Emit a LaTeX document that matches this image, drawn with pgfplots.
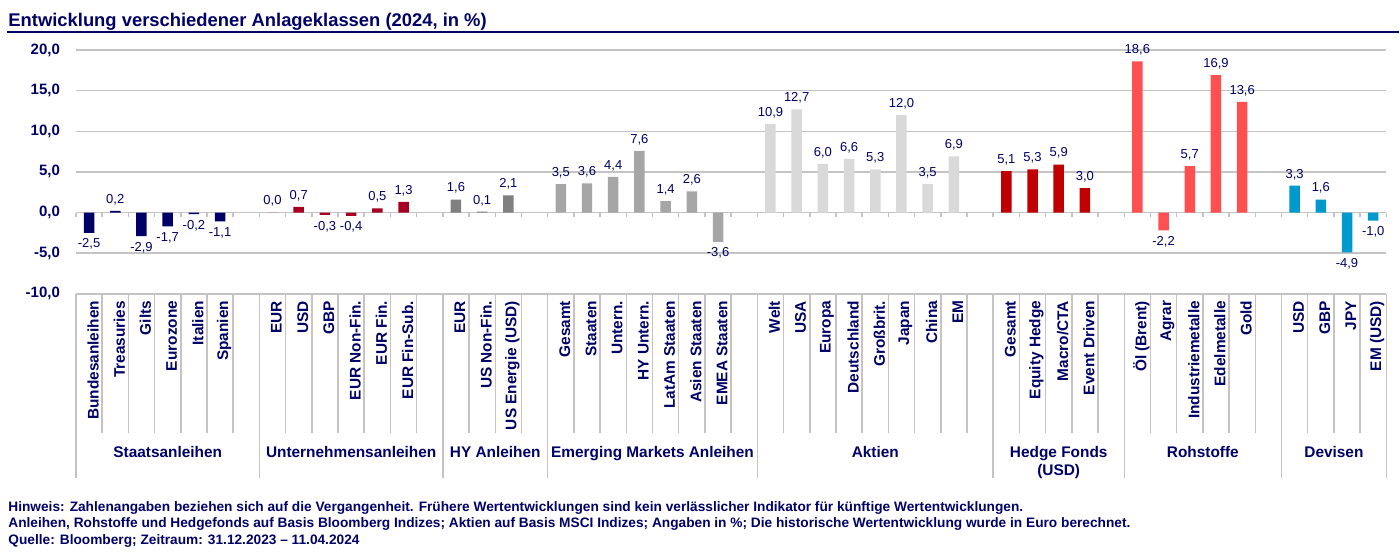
\documentclass[border=0pt]{standalone}
\usepackage{fontspec}
\setmainfont{Liberation Sans}
\usepackage{pgfplots}
\pgfplotsset{compat=1.18}

\definecolor{navy}{RGB}{0,0,102}
\definecolor{gridc}{RGB}{196,196,196}
\definecolor{cStaat}{RGB}{0,0,102}
\definecolor{cUnt}{RGB}{165,0,33}
\definecolor{cHY}{RGB}{128,128,128}
\definecolor{cEM}{RGB}{166,166,166}
\definecolor{cAkt}{RGB}{217,217,217}
\definecolor{cHF}{RGB}{192,0,0}
\definecolor{cRoh}{RGB}{255,80,80}
\definecolor{cDev}{RGB}{0,153,204}

\newcommand{\fTick}{\fontsize{7.5}{9}\selectfont\bfseries}
\newcommand{\fCat}{\fontsize{7.7}{9}\selectfont\bfseries}
\newcommand{\fVal}{\fontsize{6.5}{7.5}\selectfont}
\newcommand{\fTitle}{\fontsize{9.2}{11}\selectfont\bfseries}
\newcommand{\fFoot}{\fontsize{6.85}{8.2}\selectfont\bfseries}

\begin{document}
\begin{tikzpicture}
% canvas 1400 x 555 px, 1px = 0.5pt
\path (0,0) rectangle (700pt,277.5pt);

\begin{axis}[
  at={(38pt,130.5pt)}, anchor=south west,
  scale only axis, width=655.5pt, height=122pt,
  xmin=-0.5, xmax=49.5, ymin=-10, ymax=20,
  enlargelimits=false, clip=false,
  ybar, bar width=0.4, bar shift=0pt,
  axis line style={draw=none},
  major tick length=0pt,
  ytick={-10,-5,...,20},
  ymajorgrids, grid style={line width=0.75pt, color=gridc},
  xtick={0,...,49},
  xticklabels={Bundesanleihen,Treasuries,Gilts,Eurozone,Italien,Spanien,{},
    EUR,USD,GBP,EUR Non-Fin.,EUR Fin.,EUR Fin-Sub.,{},
    EUR,US Non-Fin.,US Energie (USD),{},
    Gesamt,Staaten,Untern.,HY Untern.,LatAm Staaten,Asien Staaten,EMEA Staaten,{},
    Welt,USA,Europa,Deutschland,Großbrit.,Japan,China,EM,{},
    Gesamt,Equity Hedge,Macro/CTA,Event Driven,{},
    Öl (Brent),Agrar,Industriemetalle,Edelmetalle,Gold,{},
    USD,GBP,JPY,EM (USD)},
  xticklabel style={rotate=90, anchor=east, font=\fCat, text=navy, yshift=-2pt},
  yticklabel style={font=\fTick, text=navy, xshift=-4.5pt},
  nodes near coords,
  every node near coord/.append style={font=\fVal, text=navy, inner sep=2.8pt},
  /pgf/number format/fixed,
  /pgf/number format/fixed zerofill,
  /pgf/number format/precision=1,
  /pgf/number format/use comma,
  /pgf/number format/assume math mode=true,
]
% Staatsanleihen
\addplot[fill=cStaat, draw=none] coordinates {
  (0,-2.5) (1,0.2) (2,-2.9) (3,-1.7) (4,-0.2) (5,-1.1)};
% Unternehmensanleihen
\addplot[fill=cUnt, draw=none] coordinates {
  (7,0.0) (8,0.7) (9,-0.3) (10,-0.4) (11,0.5) (12,1.3)};
% HY Anleihen
\addplot[fill=cHY, draw=none] coordinates {
  (14,1.6) (15,0.1) (16,2.1)};
% Emerging Markets Anleihen
\addplot[fill=cEM, draw=none] coordinates {
  (18,3.5) (19,3.6) (20,4.4) (21,7.6) (22,1.4) (23,2.6) (24,-3.6)};
% Aktien
\addplot[fill=cAkt, draw=none] coordinates {
  (26,10.9) (27,12.7) (28,6.0) (29,6.6) (30,5.3) (31,12.0) (32,3.5) (33,6.9)};
% Hedge Fonds
\addplot[fill=cHF, draw=none] coordinates {
  (35,5.1) (36,5.3) (37,5.9) (38,3.0)};
% Rohstoffe
\addplot[fill=cRoh, draw=none] coordinates {
  (40,18.6) (41,-2.2) (42,5.7) (43,16.9) (44,13.6)};
% Devisen
\addplot[fill=cDev, draw=none] coordinates {
  (46,3.3) (47,1.6) (48,-4.9) (49,-1.0)};
\end{axis}

\begin{scope}[x=0.5pt, y=-0.5pt, shift={(0,277.5pt)}]
  % title
  \node[anchor=base west, inner sep=0, font=\fTitle, text=navy] at (8,26.5)
    {Entwicklung verschiedener Anlageklassen (2024, in \%)};
  \draw[navy, line width=0.7pt] (7,32) -- (1400,32);
  % ticks on zero line
  \foreach \k in {0,...,50}
    \draw[gridc, line width=0.75pt] ({76+\k*26.22},212.7) -- ++(0,4.5);
  % category table
  \foreach \k in {0,...,50}
    \draw[gridc, line width=0.75pt] ({76+\k*26.22},294) -- ({76+\k*26.22},433);
  \foreach \k in {0,7,14,18,26,35,40,46,50}
    \draw[gridc, line width=0.75pt] ({76+\k*26.22},294) -- ({76+\k*26.22},478);
  \begin{scope}[every node/.style={font=\fCat, text=navy, inner sep=0, anchor=base}]
    \node at ({76+3.5*26.22},457.5) {Staatsanleihen};
    \node at ({76+10.5*26.22},457.5) {Unternehmensanleihen};
    \node at ({76+16*26.22},457.5) {HY Anleihen};
    \node at ({76+22*26.22},457.5) {Emerging Markets Anleihen};
    \node at ({76+30.5*26.22},457.5) {Aktien};
    \node at ({76+37.5*26.22},457.5) {Hedge Fonds};
    \node at ({76+37.5*26.22},475.5) {(USD)};
    \node at ({76+43*26.22},457.5) {Rohstoffe};
    \node at ({76+48*26.22},457.5) {Devisen};
  \end{scope}
  % footer
  \begin{scope}[every node/.style={font=\fFoot, text=navy, inner sep=0, anchor=base west}]
    \node at (8,512) {Hinweis: Zahlenangaben beziehen sich auf die Vergangenheit. Frühere Wertentwicklungen sind kein verlässlicher Indikator für künftige Wertentwicklungen.};
    \node at (8,528) {Anleihen, Rohstoffe und Hedgefonds auf Basis Bloomberg Indizes; Aktien auf Basis MSCI Indizes; Angaben in \%; Die historische Wertentwicklung wurde in Euro berechnet.};
    \node at (8,545) {Quelle: Bloomberg; Zeitraum: 31.12.2023 – 11.04.2024};
  \end{scope}
\end{scope}
\end{tikzpicture}
\end{document}
